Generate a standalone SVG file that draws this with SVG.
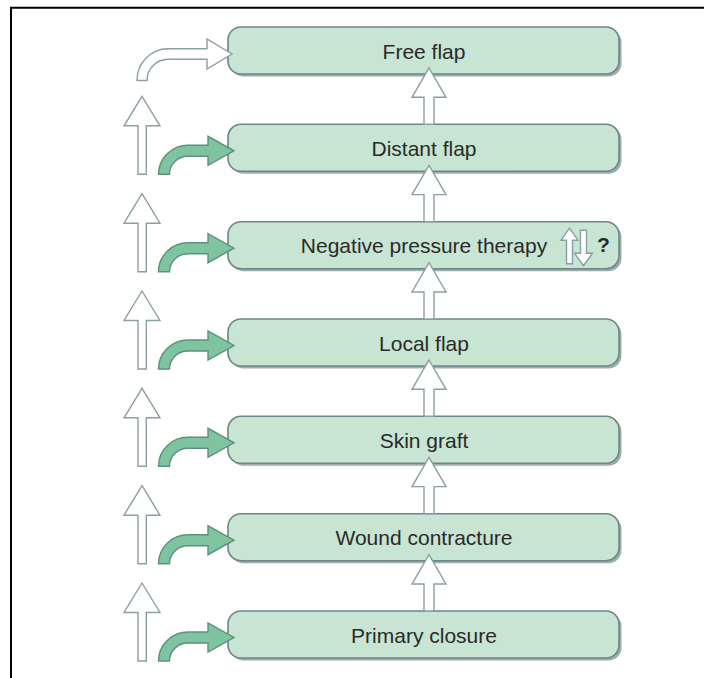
<svg xmlns="http://www.w3.org/2000/svg" xmlns:xlink="http://www.w3.org/1999/xlink" width="704" height="678" viewBox="0 0 704 678">
  <style>
    .box { fill: #c8e4d3; stroke: #6b8687; stroke-width: 1.6; }
    .shadow { fill: #9eacac; }
    .lbl { font-family: "Liberation Sans", Arial, sans-serif; font-size: 21px; fill: #2a2a2a; text-anchor: middle; }
    .q { font-family: "Liberation Sans", Arial, sans-serif; font-size: 21px; fill: #2a2a2a; font-weight: bold; }
    .hollow { fill: #ffffff; stroke: #8a9fa3; stroke-width: 1.4; stroke-linejoin: miter; }
    .green { fill: #7ec4a1; stroke: #5f8f7b; stroke-width: 1.4; stroke-linejoin: miter; }
    .frame { stroke: #000000; stroke-width: 2; fill: none; }
  </style>
  <defs>
    <g id="node">
      <rect class="shadow" x="230.5" y="2.5" width="391" height="47" rx="13"/>
      <rect class="box" x="228" y="0" width="391" height="47" rx="13"/>
    </g>
    <polygon id="leftUp" class="hollow" points="142,-28 160,1.5 146.3,1.5 146.3,50 138,50 138,1.5 124,1.5"/>
    <path id="greenCurve" class="green" d="M158.5,50 A29.5,29 0 0 1 188,21 L208,21 L208,12 L234,26.5 L208,41 L208,32 L188,32 A18.5,18 0 0 0 169.5,50 Z"/>
    <polygon id="centerUp" class="hollow" points="429,41 446,70.3 434,70.3 434,97.3 424,97.3 424,70.3 412,70.3"/>
  </defs>
  <rect x="0" y="0" width="704" height="678" fill="#ffffff"/>
  <path class="frame" d="M11,678 L11,7.7 L704,7.7"/>

  <g id="free-flap" transform="translate(0,27)">
    <use xlink:href="#node" href="#node"/>
    <text class="lbl" x="424" y="31.5">Free flap</text>
  </g>
  <g id="distant-flap" transform="translate(0,124.3)">
    <use xlink:href="#node" href="#node"/>
    <text class="lbl" x="424" y="31.5">Distant flap</text>
  </g>
  <g id="negative-pressure-therapy" transform="translate(0,221.7)">
    <use xlink:href="#node" href="#node"/>
    <text class="lbl" x="424" y="31.5">Negative pressure therapy</text>
    <polygon class="hollow" points="569.5,6.5 578,18.5 572.5,18.5 572.5,42 566.5,42 566.5,18.5 561,18.5"/>
    <polygon class="hollow" points="580.5,8.5 586.5,8.5 586.5,31.5 592.5,31.5 583.5,44 574.5,31.5 580.5,31.5"/>
    <text class="q" x="597" y="30.5">?</text>
  </g>
  <g id="local-flap" transform="translate(0,319)">
    <use xlink:href="#node" href="#node"/>
    <text class="lbl" x="424" y="31.5">Local flap</text>
  </g>
  <g id="skin-graft" transform="translate(0,416.3)">
    <use xlink:href="#node" href="#node"/>
    <text class="lbl" x="424" y="31.5">Skin graft</text>
  </g>
  <g id="wound-contracture" transform="translate(0,513.7)">
    <use xlink:href="#node" href="#node"/>
    <text class="lbl" x="424" y="31.5">Wound contracture</text>
  </g>
  <g id="primary-closure" transform="translate(0,611)">
    <use xlink:href="#node" href="#node"/>
    <text class="lbl" x="424" y="31.5">Primary closure</text>
  </g>

  <g id="connectors">
    <!-- top hollow curved arrow into Free flap -->
    <path class="hollow" transform="translate(0,27)" d="M137,53.5 A31,31.8 0 0 1 168,21.7 L207,21.7 L207,12 L232,27 L207,42 L207,32.3 L168,32.3 A21,21.2 0 0 0 147,53.5 Z"/>
    <!-- left column hollow up arrows -->
    <use xlink:href="#leftUp" href="#leftUp" transform="translate(0,124.3)"/>
    <use xlink:href="#leftUp" href="#leftUp" transform="translate(0,221.7)"/>
    <use xlink:href="#leftUp" href="#leftUp" transform="translate(0,319)"/>
    <use xlink:href="#leftUp" href="#leftUp" transform="translate(0,416.3)"/>
    <use xlink:href="#leftUp" href="#leftUp" transform="translate(0,513.7)"/>
    <use xlink:href="#leftUp" href="#leftUp" transform="translate(0,611)"/>
    <!-- green curved arrows -->
    <use xlink:href="#greenCurve" href="#greenCurve" transform="translate(0,124.3)"/>
    <use xlink:href="#greenCurve" href="#greenCurve" transform="translate(0,221.7)"/>
    <use xlink:href="#greenCurve" href="#greenCurve" transform="translate(0,319)"/>
    <use xlink:href="#greenCurve" href="#greenCurve" transform="translate(0,416.3)"/>
    <use xlink:href="#greenCurve" href="#greenCurve" transform="translate(0,513.7)"/>
    <use xlink:href="#greenCurve" href="#greenCurve" transform="translate(0,611)"/>
    <!-- center column hollow up arrows between boxes -->
    <use xlink:href="#centerUp" href="#centerUp" transform="translate(0,27)"/>
    <use xlink:href="#centerUp" href="#centerUp" transform="translate(0,124.3)"/>
    <use xlink:href="#centerUp" href="#centerUp" transform="translate(0,221.7)"/>
    <use xlink:href="#centerUp" href="#centerUp" transform="translate(0,319)"/>
    <use xlink:href="#centerUp" href="#centerUp" transform="translate(0,416.3)"/>
    <use xlink:href="#centerUp" href="#centerUp" transform="translate(0,513.7)"/>
  </g>
</svg>
